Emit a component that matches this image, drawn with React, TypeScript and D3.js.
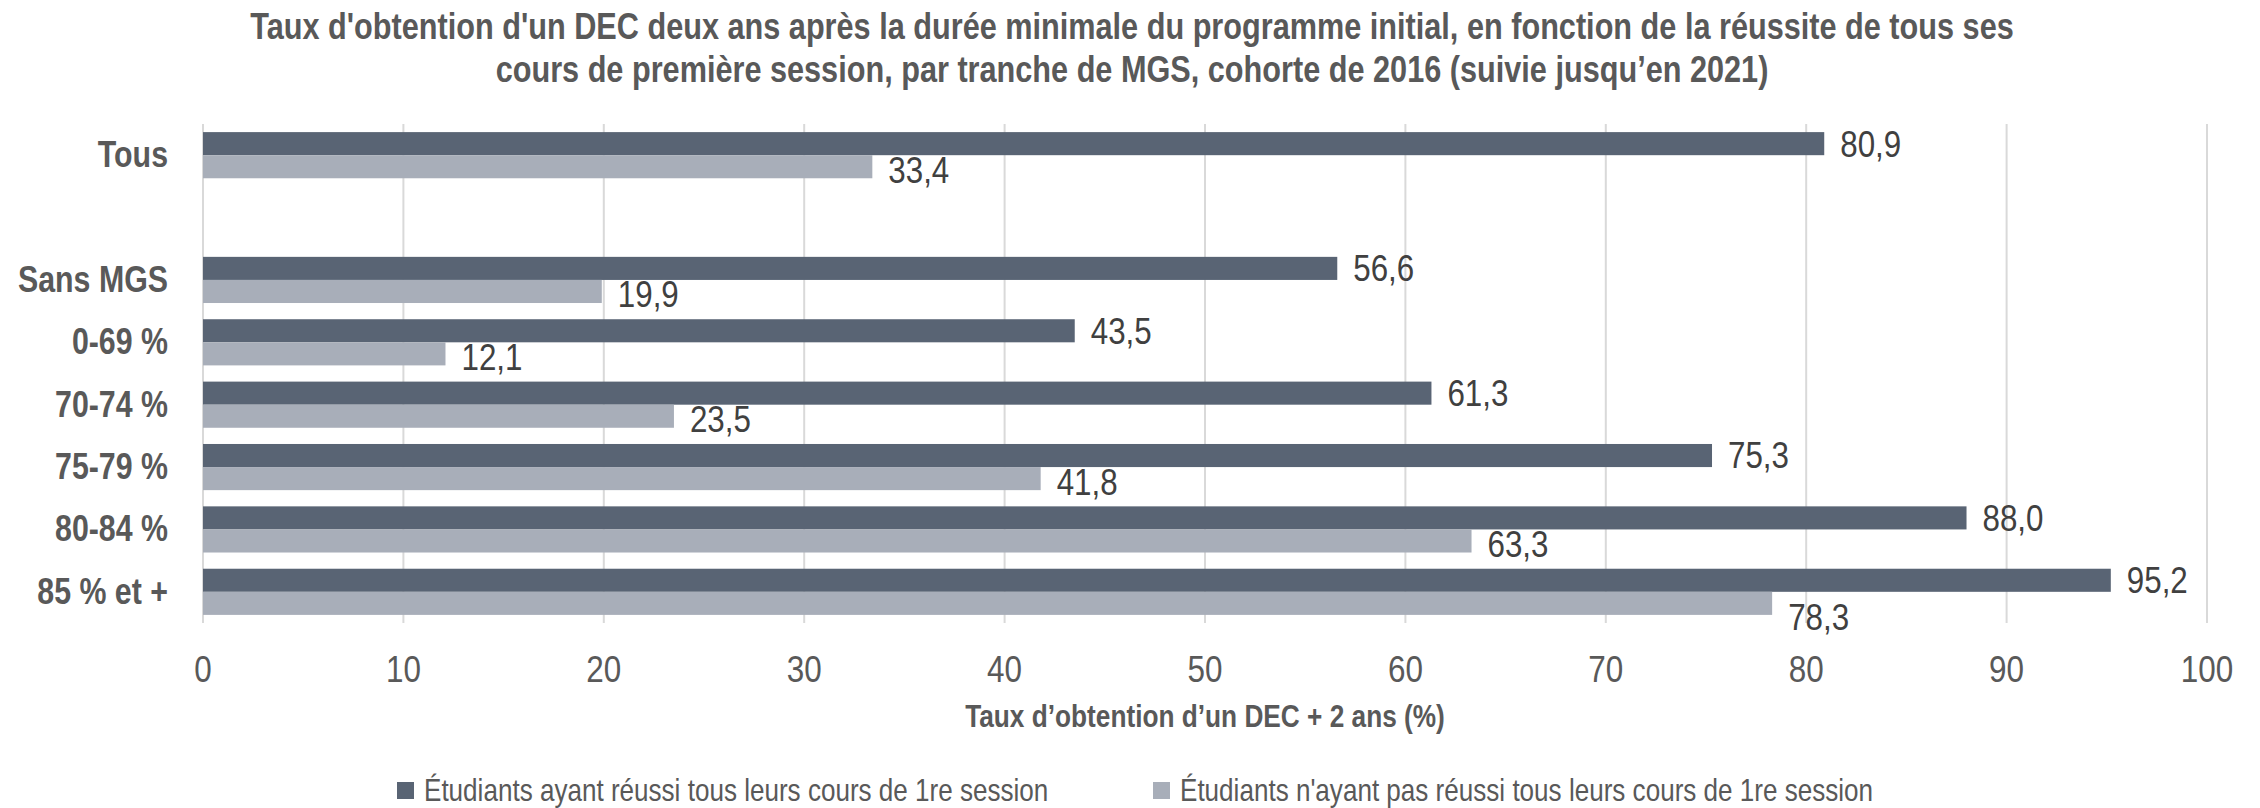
import React, { useEffect, useRef } from 'react';
import * as d3 from 'd3';

const categories = ['Tous', '', 'Sans MGS', '0-69 %', '70-74 %', '75-79 %', '80-84 %', '85 % et +'];
const reussi = [80.9, null, 56.6, 43.5, 61.3, 75.3, 88.0, 95.2];
const nonReussi = [33.4, null, 19.9, 12.1, 23.5, 41.8, 63.3, 78.3];
const xTicks = [0, 10, 20, 30, 40, 50, 60, 70, 80, 90, 100];
const seriesNames = [
  'Étudiants ayant réussi tous leurs cours de 1re session',
  "Étudiants n'ayant pas réussi tous leurs cours de 1re session"
];
const titleLines = [
  "Taux d'obtention d'un DEC deux ans après la durée minimale du programme initial, en fonction de la réussite de tous ses",
  'cours de première session, par tranche de MGS, cohorte de 2016 (suivie jusqu’en 2021)'
];
const xTitle = 'Taux d’obtention d’un DEC + 2 ans (%)';

const colors = ['#596474', '#a8aeb9'];
// Arial Narrow look: Liberation Sans squeezed horizontally
const FONT = '"Liberation Sans", Arial, sans-serif';
const SX = 0.82;

const App = () => {
  const svgRef = useRef<SVGSVGElement>(null);
  const width = 2260;
  const height = 808;
  const margin = { left: 203, right: 53, top: 124, bottom: 185 };

  useEffect(() => {
    const svg = d3.select(svgRef.current);
    svg.selectAll('*').remove();

    const x = d3.scaleLinear()
      .domain([0, 100])
      .range([margin.left, width - margin.right]);

    const ids = categories.map((c, i) => `${i}`);
    const y = d3.scaleBand()
      .domain(ids)
      .range([margin.top, height - margin.bottom])
      .paddingInner(0.26)
      .paddingOuter(0.13);
    const bh = y.bandwidth() / 2;

    const fmt = (v: number) => d3.format('.1f')(v).replace('.', ',');
    const at = (px: number, py: number, sx = SX) => `translate(${px},${py}) scale(${sx},1)`;

    // title
    svg.append('g')
      .selectAll('text')
      .data(titleLines)
      .enter()
      .append('text')
      .attr('transform', (d, i) => at(width / 2 + 2, 39 + i * 43))
      .attr('text-anchor', 'middle')
      .style('font-family', FONT)
      .style('font-weight', 'bold')
      .style('font-size', '37.4px')
      .style('fill', '#595959')
      .text(d => d);

    // gridlines
    svg.append('g')
      .selectAll('line')
      .data(xTicks)
      .enter()
      .append('line')
      .attr('x1', d => x(d))
      .attr('x2', d => x(d))
      .attr('y1', margin.top)
      .attr('y2', height - margin.bottom)
      .style('stroke', '#d9d9d9')
      .style('stroke-width', 2);

    // tick labels
    svg.append('g')
      .selectAll('text')
      .data(xTicks)
      .enter()
      .append('text')
      .attr('transform', d => at(x(d), 682, 0.85))
      .attr('text-anchor', 'middle')
      .style('font-family', FONT)
      .style('font-size', '37px')
      .style('fill', '#595959')
      .text(d => d);

    svg.append('text')
      .attr('transform', at((margin.left + width - margin.right) / 2, 727))
      .attr('text-anchor', 'middle')
      .style('font-family', FONT)
      .style('font-weight', 'bold')
      .style('font-size', '32px')
      .style('fill', '#595959')
      .text(xTitle);

    // category labels
    svg.append('g')
      .selectAll('text')
      .data(categories)
      .enter()
      .append('text')
      .attr('transform', (d, i) => at(168, (y(`${i}`) as number) + y.bandwidth() / 2))
      .attr('dy', '0.32em')
      .attr('text-anchor', 'end')
      .style('font-family', FONT)
      .style('font-weight', 'bold')
      .style('font-size', '37px')
      .style('fill', '#595959')
      .text(d => d);

    const series = [reussi, nonReussi];
    const last = categories.length - 1;
    series.forEach((vals, s) => {
      const g = svg.append('g');
      const rows = vals
        .map((v, i) => ({ v, i }))
        .filter(d => d.v !== null) as { v: number; i: number }[];

      g.selectAll('rect')
        .data(rows)
        .enter()
        .append('rect')
        .attr('x', x(0))
        .attr('y', d => (y(`${d.i}`) as number) + s * bh)
        .attr('width', d => x(d.v) - x(0))
        .attr('height', bh)
        .style('fill', colors[s]);

      // light labels sit a bit low; the bottom one is pushed under its bar
      const shift = (i: number) => (s === 1 ? (i === last ? 14 : 3) : 0);
      g.selectAll('text')
        .data(rows)
        .enter()
        .append('text')
        .attr('transform', d => at(x(d.v) + 16, (y(`${d.i}`) as number) + s * bh + bh / 2 + shift(d.i), 0.87))
        .attr('dy', '0.36em')
        .style('font-family', FONT)
        .style('font-size', '36px')
        .style('fill', '#404040')
        .text(d => fmt(d.v));
    });

    // legend
    const legendX = [397, 1153];
    const legend = svg.append('g')
      .selectAll('g')
      .data(seriesNames)
      .enter()
      .append('g')
      .attr('transform', (d, i) => `translate(${legendX[i]}, 790)`);

    legend.append('rect')
      .attr('x', 0)
      .attr('y', -8)
      .attr('width', 17)
      .attr('height', 17)
      .style('fill', (d, i) => colors[i]);

    legend.append('text')
      .attr('transform', at(27, 0))
      .attr('dy', '0.36em')
      .style('font-family', FONT)
      .style('font-size', '31.8px')
      .style('fill', '#595959')
      .text(d => d);
  }, []);

  return (
    <svg
      ref={svgRef}
      width={width}
      height={height}
      style={{ position: 'absolute', left: 0, top: 0, background: '#ffffff' }}
    ></svg>
  );
};

export default App;
